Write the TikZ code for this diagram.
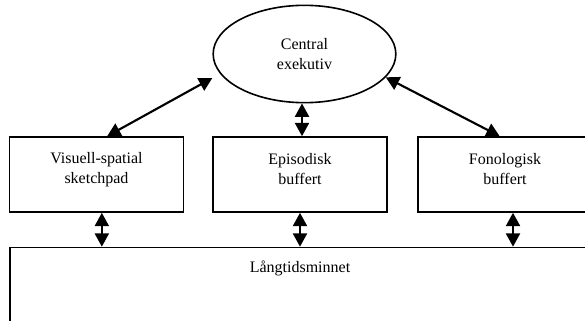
\documentclass[tikz,border=0pt]{standalone}
\usepackage{fontspec}
\setmainfont{Liberation Serif}
\usetikzlibrary{arrows.meta,shapes.geometric}

\begin{document}
\begin{tikzpicture}[x=0.75pt, y=-0.75pt, >={Triangle[length=10pt,width=10.5pt]},
    every node/.style={font=\fontsize{12pt}{15pt}\selectfont},
    compbox/.style={draw, line width=1.2pt, minimum width=130.5pt, minimum height=56.25pt},
    biarrow/.style={<->, line width=1.6pt}]
  \useasboundingbox (0,0) rectangle (585,321);
  \clip (0,0) rectangle (585,321);
  % Central executive
  \node[draw, ellipse, line width=1.2pt, minimum width=137pt, minimum height=73pt,
        align=center] (ce) at (304.5,54) {Central\\exekutiv};
  % Slave systems
  \node[compbox, label={[align=center, yshift=4pt]center:Visuell-spatial\\sketchpad}] (vs) at (96.5,174.5) {};
  \node[compbox, label={[align=center, yshift=4pt]center:Episodisk\\buffert}] (eb) at (300,174.5) {};
  \node[compbox, label={[align=center, yshift=4pt]center:Fonologisk\\buffert}] (fb) at (505,174.5) {};
  % Long-term memory
  \node[draw, line width=1.2pt, minimum width=435pt, minimum height=69pt,
        label={[anchor=north, yshift=-7pt]north:Långtidsminnet}] (ltm) at (300,293.5) {};
  % Arrows
  \draw[biarrow] ([xshift=8pt]vs.north) -- ([yshift=-18pt]ce.west);
  \draw[biarrow] ([xshift=-4pt]fb.north) -- (ce.344);
  \draw[biarrow] ([xshift=1.5pt]eb.north) -- ([xshift=1.5pt]eb.north |- ce.south);
  \foreach \b/\s in {vs/4pt, eb/0pt, fb/6pt} {
    \draw[biarrow] ([xshift=\s]\b.south) -- ([xshift=\s]\b.south |- ltm.north);
  }
\end{tikzpicture}
\end{document}
